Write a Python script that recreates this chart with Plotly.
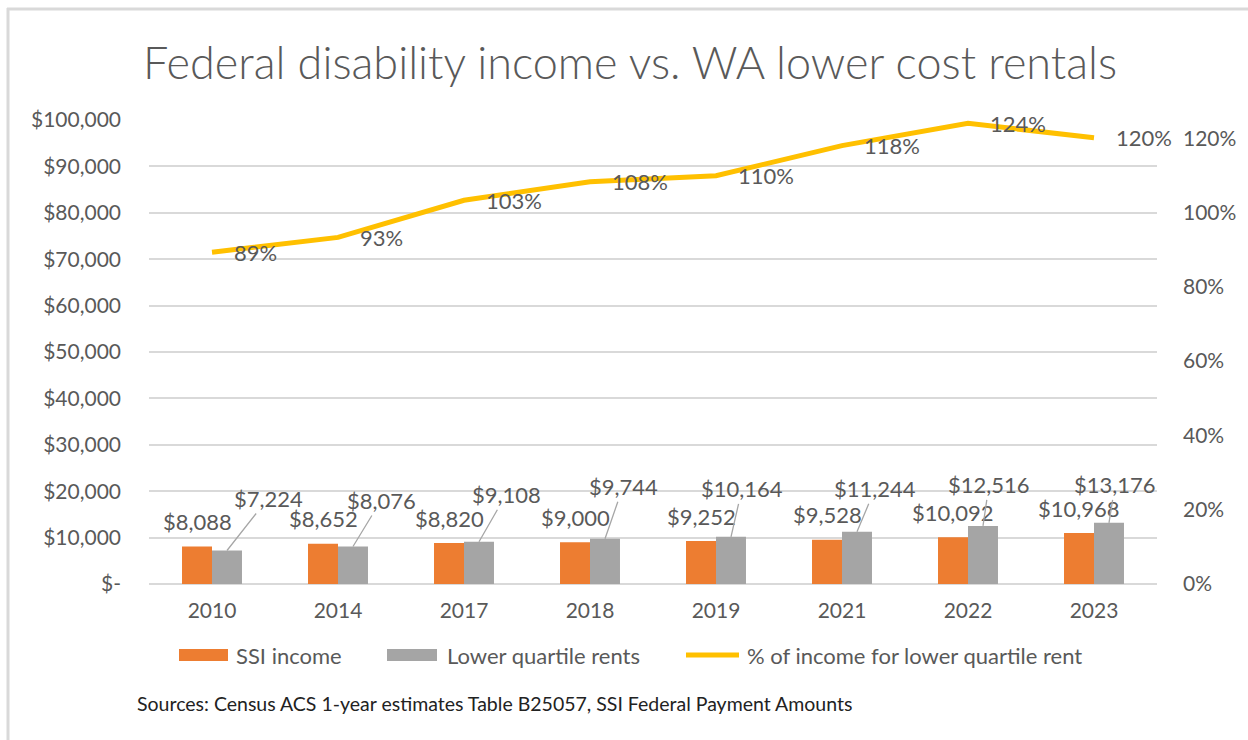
import plotly.graph_objects as go

years = ["2010", "2014", "2017", "2018", "2019", "2021", "2022", "2023"]
ssi_income = [8088, 8652, 8820, 9000, 9252, 9528, 10092, 10968]
lower_quartile_rents = [7224, 8076, 9108, 9744, 10164, 11244, 12516, 13176]
pct_of_income = [0.893, 0.933, 1.033, 1.083, 1.099, 1.180, 1.240, 1.201]

left_tick_vals = [0, 10000, 20000, 30000, 40000, 50000, 60000, 70000, 80000, 90000, 100000]
left_tick_text = ["$-", "$10,000", "$20,000", "$30,000", "$40,000", "$50,000",
                  "$60,000", "$70,000", "$80,000", "$90,000", "$100,000"]
right_tick_vals = [0, 0.2, 0.4, 0.6, 0.8, 1.0, 1.2]
right_tick_text = ["0%", "20%", "40%", "60%", "80%", "100%", "120%"]

series_names = ["SSI income", "Lower quartile rents", "% of income for lower quartile rent"]

# label offsets (pixels) for gray bar labels (leader lines)
gray_label_dx = [41, 28, 27, 18, 11, 18, 6, 6]
gray_label_dy = [-52, -46, -47, -52, -48, -43, -41, -38]

FONT = "Lato"
TXT = "#595959"
LBL = 22
ORANGE, GRAY, YELLOW = "#ED7D31", "#A5A5A5", "#FFC000"

# plot area geometry (pixels)
L, R, T, B = 149, 1157, 120, 584
W, H = R - L, B - T


def px(x):
    return (x - L) / W


def py(y):
    return (B - y) / H


fig = go.Figure()
fig.add_trace(go.Bar(x=years, y=ssi_income, name=series_names[0],
                     marker=dict(color=ORANGE, line=dict(width=0)),
                     width=0.238, offset=-0.238))
fig.add_trace(go.Bar(x=years, y=lower_quartile_rents, name=series_names[1],
                     marker=dict(color=GRAY, line=dict(width=0)),
                     width=0.238, offset=0))
fig.add_trace(go.Scatter(x=years, y=pct_of_income, name=series_names[2],
                         mode="lines", yaxis="y2",
                         line=dict(color=YELLOW, width=5)))

annotations = []
for i, yr in enumerate(years):
    annotations.append(dict(x=i, y=ssi_income[i], xref="x", yref="y",
                            text=f"${ssi_income[i]:,}", showarrow=False,
                            xshift=-15, yshift=25, yanchor="middle",
                            font=dict(family=FONT, size=LBL, color=TXT)))
    annotations.append(dict(x=i, y=lower_quartile_rents[i], xref="x", yref="y",
                            text=f"${lower_quartile_rents[i]:,}", showarrow=True,
                            arrowhead=0, arrowwidth=1.3, arrowcolor="#A6A6A6",
                            ax=gray_label_dx[i], ay=gray_label_dy[i], xshift=15,
                            font=dict(family=FONT, size=LBL, color=TXT)))
    annotations.append(dict(x=i, y=pct_of_income[i], xref="x", yref="y2",
                            text=f"{round(pct_of_income[i]*100)}%", showarrow=False,
                            xanchor="left", xshift=20, yanchor="middle",
                            font=dict(family=FONT, size=LBL, color=TXT)))

annotations.append(dict(text="Sources: Census ACS 1-year estimates Table B25057, SSI Federal Payment Amounts",
                        x=px(135), y=py(703), xref="paper", yref="paper",
                        xanchor="left", yanchor="middle", showarrow=False,
                        font=dict(family=FONT, size=19.5, color="#222222")))
annotations.append(dict(text="Federal disability income vs. WA lower cost rentals",
                        x=px(630), y=py(62), xref="paper", yref="paper",
                        xanchor="center", yanchor="middle", showarrow=False,
                        font=dict(family=FONT, size=45, color=TXT, weight=300)))

# custom legend (Excel-style wide swatches)
LEG_Y = 655
legend_swatch_x = [(179, 228), (387, 437), (686, 739)]
legend_text_x = [234, 445, 745]
legend_colors = [ORANGE, GRAY, YELLOW]

shapes = [
    dict(type="line", xref="paper", yref="paper",
         x0=px(7), x1=px(1250), y0=py(9), y1=py(9),
         line=dict(color="#D9D9D9", width=3)),
    dict(type="line", xref="paper", yref="paper",
         x0=px(8), x1=px(8), y0=py(8), y1=py(742),
         line=dict(color="#D9D9D9", width=3)),
]
for k in range(3):
    x0, x1 = legend_swatch_x[k]
    if k < 2:
        shapes.append(dict(type="rect", xref="paper", yref="paper",
                           x0=px(x0), x1=px(x1), y0=py(LEG_Y + 6), y1=py(LEG_Y - 6),
                           fillcolor=legend_colors[k], line=dict(width=0)))
    else:
        shapes.append(dict(type="line", xref="paper", yref="paper",
                           x0=px(x0), x1=px(x1), y0=py(LEG_Y), y1=py(LEG_Y),
                           line=dict(color=legend_colors[k], width=5)))
    annotations.append(dict(text=series_names[k], x=px(legend_text_x[k]), y=py(LEG_Y),
                            xref="paper", yref="paper", xanchor="left", yanchor="middle",
                            showarrow=False, font=dict(family=FONT, size=22, color=TXT)))

fig.update_layout(
    width=1248, height=740,
    margin=dict(l=L, r=1248 - R, t=T, b=740 - B),
    paper_bgcolor="white", plot_bgcolor="white",
    font=dict(family=FONT, size=21, color=TXT),
    barmode="overlay",
    showlegend=False,
    xaxis=dict(type="category", range=[-0.5, 7.5], showgrid=False, showline=False, ticks="",
               tickfont=dict(family=FONT, size=21, color=TXT), ticklabelstandoff=12),
    yaxis=dict(range=[0, 100000], tickvals=left_tick_vals, ticktext=left_tick_text,
               showgrid=True, gridcolor="#D9D9D9", gridwidth=1.5,
               zeroline=True, zerolinecolor="#D9D9D9", zerolinewidth=1.5,
               showline=False, ticks="", ticklabelstandoff=27,
               tickfont=dict(family=FONT, size=21, color=TXT)),
    yaxis2=dict(range=[0, 1.249], tickvals=right_tick_vals, ticktext=right_tick_text,
                overlaying="y", side="right", showgrid=False, zeroline=False,
                showline=False, ticks="", ticklabelstandoff=25,
                tickfont=dict(family=FONT, size=21, color=TXT)),
    annotations=annotations,
    shapes=shapes,
)

fig.write_html("out.html", config={"displayModeBar": False},
               post_script="document.body.style.margin='0';document.body.style.overflow='hidden';")
